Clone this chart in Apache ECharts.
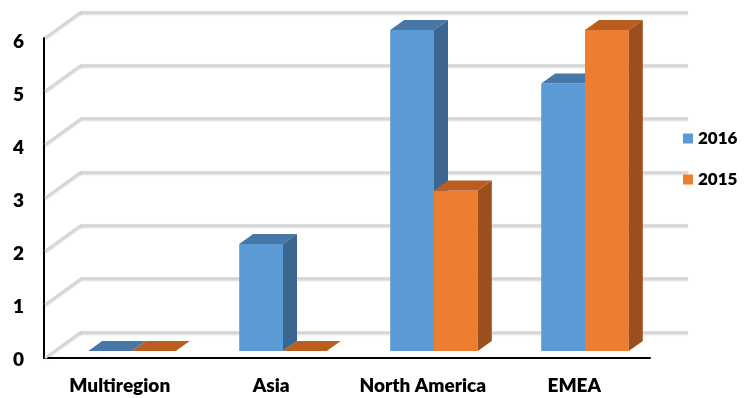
<!DOCTYPE html>
<html>
<head>
<meta charset="utf-8">
<script src="https://cdn.jsdelivr.net/npm/echarts@6/dist/echarts.min.js"></script>
<style>html,body{margin:0;padding:0;background:#fff}#c{width:749px;height:398px}</style>
</head>
<body>
<div id="c"></div>
<script>
const categories = ['Multiregion', 'Asia', 'North America', 'EMEA'];
const values2016 = [0, 2, 6, 5];
const values2015 = [0, 0, 3, 6];
const seriesNames = ['2016', '2015'];
const yTicks = [0, 1, 2, 3, 4, 5, 6];

const FONT = 'Lato';
const WEIGHT = 800;
const BAR_FRAC = 0.29;
const DEPTH_DX = 14, DEPTH_DY = -10;   // bar depth
const WALL_DX = 36, WALL_DY = -26;     // wall depth
const GRID_LINE = { color: '#d6d6d6', width: 2.5, shadowColor: 'rgba(0,0,0,0.18)', shadowBlur: 2, shadowOffsetY: 1 };

const palettes = [
  { front: '#5b9bd5', top: '#4677a7', side: '#3a6690' },
  { front: '#ed7d31', top: '#b95d21', side: '#9c4f1d' }
];

function barSeries(name, data, idx) {
  const pal = palettes[idx];
  return {
    type: 'custom', name: name, xAxisIndex: 1, yAxisIndex: 1, z: 5,
    itemStyle: { color: pal.front },
    encode: { x: 0, y: 1 },
    data: data.map((v, i) => [i, v]),
    renderItem: function (params, api) {
      const ci = api.value(0), v = api.value(1);
      const top = api.coord([ci, v]);
      const base = api.coord([ci, 0]);
      const band = api.size([1, 0])[0];
      const w = band * BAR_FRAC;
      const x0 = top[0] + (idx === 0 ? -w : 0);
      const x1 = x0 + w;
      const yT = top[1], yB = base[1];
      const dx = DEPTH_DX, dy = DEPTH_DY;
      const children = [];
      if (yB - yT > 0.5) {
        children.push({ type: 'rect', shape: { x: x0, y: yT, width: w, height: yB - yT }, style: { fill: pal.front } });
        children.push({ type: 'polygon', shape: { points: [[x1, yT], [x1 + dx, yT + dy], [x1 + dx, yB + dy], [x1, yB]] }, style: { fill: pal.side } });
      }
      children.push({ type: 'polygon', shape: { points: [[x0, yT], [x1, yT], [x1 + dx, yT + dy], [x0 + dx, yT + dy]] }, style: { fill: pal.top } });
      return { type: 'group', children: children };
    }
  };
}

const chart = echarts.init(document.getElementById('c'), null, { renderer: 'canvas' });
chart.setOption({
  animation: false,
  backgroundColor: '#fff',
  textStyle: { fontFamily: FONT },
  legend: {
    data: seriesNames,
    orient: 'vertical',
    left: 678, top: 125,
    itemWidth: 10, itemHeight: 10, itemGap: 24,
    icon: 'rect',
    textStyle: { fontFamily: FONT, fontWeight: WEIGHT, fontSize: 17, color: '#000' }
  },
  grid: [
    { left: 44, right: 99, top: 38, bottom: 40 },      // front plane
    { left: 56.5, right: 88.5, top: 30, bottom: 47 },  // bar front plane
    { left: 80, right: 61, top: 12, bottom: 66 },      // back wall
    { left: 44, right: 99, top: 42, bottom: 38 }       // y labels
  ],
  xAxis: [
    { gridIndex: 0, type: 'category', data: categories,
      axisLine: { lineStyle: { color: '#000', width: 2 } }, axisTick: { show: false },
      axisLabel: { interval: 0, margin: 18, fontFamily: FONT, fontWeight: WEIGHT, fontSize: 19, color: '#000' } },
    { gridIndex: 1, type: 'category', data: categories, show: false },
    { gridIndex: 2, type: 'category', data: categories, show: false },
    { gridIndex: 3, type: 'category', data: categories, show: false }
  ],
  yAxis: [
    { gridIndex: 0, type: 'value', min: 0, max: 6, interval: 1,
      axisLine: { show: true, lineStyle: { color: '#000', width: 2 } }, axisTick: { show: false },
      axisLabel: { show: false }, splitLine: { show: false } },
    { gridIndex: 1, type: 'value', min: 0, max: 6, interval: 1, show: false },
    { gridIndex: 2, type: 'value', min: 0, max: 6, interval: 1,
      axisLine: { show: false }, axisTick: { show: false }, axisLabel: { show: false },
      splitLine: { show: true, lineStyle: GRID_LINE } },
    { gridIndex: 3, type: 'value', min: 0, max: 6, interval: 1,
      axisLine: { show: false }, axisTick: { show: false }, splitLine: { show: false },
      axisLabel: { margin: 20, fontFamily: FONT, fontWeight: WEIGHT, fontSize: 19, color: '#000',
        formatter: v => yTicks.indexOf(v) >= 0 ? String(v) : '' } }
  ],
  series: [
    { type: 'custom', name: 'wall', xAxisIndex: 0, yAxisIndex: 0, z: 1, silent: true,
      encode: { x: 0, y: 1 },
      data: yTicks.map(v => [0, v]),
      renderItem: function (params, api) {
        const p = api.coord([0, api.value(1)]);
        const x = params.coordSys.x + 1;
        return { type: 'line', shape: { x1: x, y1: p[1], x2: x + WALL_DX, y2: p[1] + WALL_DY },
          style: { stroke: GRID_LINE.color, lineWidth: GRID_LINE.width, shadowColor: GRID_LINE.shadowColor, shadowBlur: 2, shadowOffsetY: 1 } };
      }
    },
    barSeries(seriesNames[0], values2016, 0),
    barSeries(seriesNames[1], values2015, 1)
  ]
});
</script>
</body>
</html>
